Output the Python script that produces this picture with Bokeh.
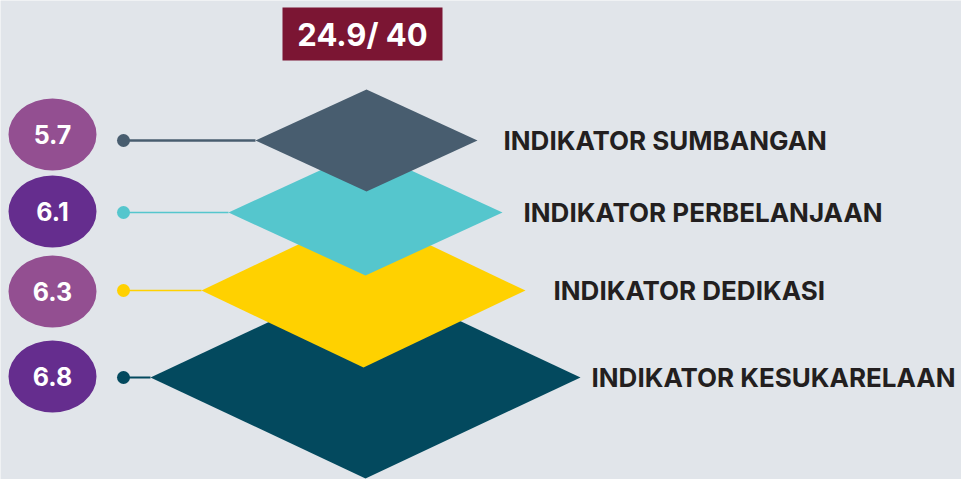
from bokeh.plotting import figure
from bokeh.models import Range1d, ColumnDataSource
from bokeh.core.properties import value
from bokeh.embed import file_html
from bokeh.resources import INLINE

# ---- data ----
indicators = ["INDIKATOR SUMBANGAN", "INDIKATOR PERBELANJAAN", "INDIKATOR DEDIKASI", "INDIKATOR KESUKARELAAN"]
scores = [5.7, 6.1, 6.3, 6.8]
total_score = 24.9
max_score = 40

# ---- layout (pixel-like coordinates of the page) ----
BG = "#E1E5EA"
layer_cy = [140, 212, 290, 377]
layer_cx = [366, 365, 363, 365]
layer_hw = [111, 137, 162, 215]
layer_hh = [51, 63, 77, 101]
layer_colors = ["#485D6F", "#55C6CD", "#FFD100", "#03495E"]
line_widths = [2.5, 1.5, 1.5, 2]
bubble_colors = ["#934F91", "#652D8E", "#934F91", "#652D8E"]
bubble_cx = 52
bubble_cy = [134, 211, 291, 376]
dot_x = 123
label_x = [503, 523, 553, 591]

W, H = 961, 479
p = figure(width=W, height=H, output_backend="svg", toolbar_location=None,
           x_range=Range1d(0, W), y_range=Range1d(H, 0),
           min_border=0, background_fill_color=BG, border_fill_color=BG,
           outline_line_color=None)
p.axis.visible = False
p.grid.visible = False

# diamonds, drawn bottom layer first
for i in reversed(range(len(indicators))):
    cx, cy, hw, hh = layer_cx[i], layer_cy[i], layer_hw[i], layer_hh[i]
    p.patch([cx - hw, cx, cx + hw, cx], [cy, cy - hh, cy, cy + hh],
            fill_color=layer_colors[i], line_color=None)

# connector lines and dots
for i in range(len(indicators)):
    p.segment(x0=dot_x, y0=layer_cy[i], x1=layer_cx[i] - layer_hw[i], y1=layer_cy[i],
              line_color=layer_colors[i], line_width=line_widths[i])
src_dots = ColumnDataSource(dict(x=[dot_x] * 4, y=layer_cy, c=layer_colors))
p.scatter("x", "y", source=src_dots, size=13, fill_color="c", line_color=None)

# bubbles with scores
src_b = ColumnDataSource(dict(x=[bubble_cx] * 4, y=bubble_cy, c=bubble_colors,
                              t=[f"{s:.1f}" for s in scores]))
p.ellipse("x", "y", width=88, height=72, source=src_b, fill_color="c", line_color=None)
p.text("x", "y", text="t", source=src_b, text_color="white", text_align="center",
       text_baseline="middle", text_font=value("Inter"), text_font_style="bold",
       text_font_size="25px")

# labels
src_l = ColumnDataSource(dict(x=label_x, y=layer_cy, t=indicators))
p.text("x", "y", text="t", source=src_l, text_color="#231F20", text_align="left",
       text_baseline="middle", text_font=value("Inter"), text_font_style="bold",
       text_font_size="26px")

# total box
p.quad(left=282, right=442, top=7, bottom=60, fill_color="#7B1533", line_color=None)
p.text(x=[362], y=[34], text=[f"{total_score}/ {max_score}"], text_color="white",
       text_align="center", text_baseline="middle", text_font=value("Inter"),
       text_font_style="bold", text_font_size="31px")

html = file_html(p, INLINE)
html = html.replace("<body>", f'<body style="background:{BG};">', 1)
open("out.html", "w").write(html)
